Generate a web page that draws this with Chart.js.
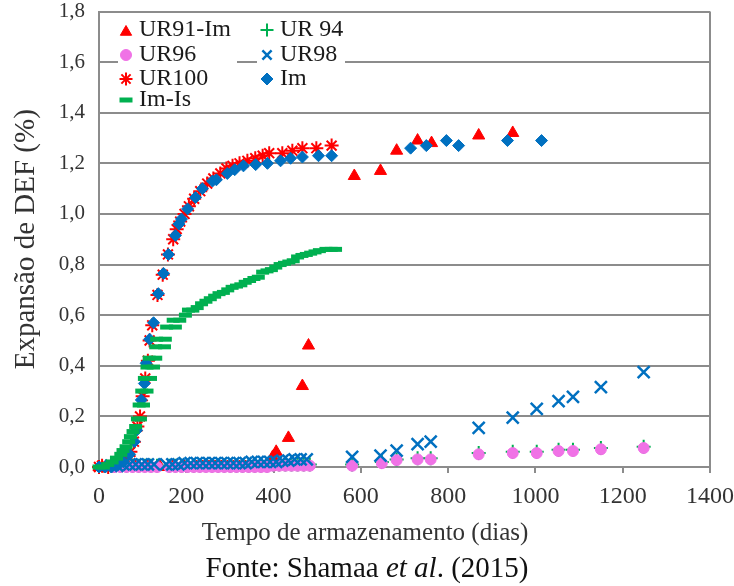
<!DOCTYPE html>
<html lang="pt">
<head>
<meta charset="UTF-8">
<title>Expansão de DEF</title>
<style>
    body { margin: 0; background: #fff; }
    .wrap { position: relative; width: 734px; height: 586px; }
    #chart { position: absolute; left: 0; top: 0; }
    .xtitle, .fonte {
        position: absolute; text-align: center; white-space: nowrap;
        font-family: 'Liberation Serif', 'Times New Roman', serif;
    }
    .xtitle { left: 165px; width: 400px; top: 517px; font-size: 25px; line-height: 30px; color: #333; }
    .fonte { left: 0; width: 734px; top: 550px; font-size: 29px; line-height: 34px; color: #111; }
</style>
</head>
<body>
<div class="wrap">
    <canvas id="chart" width="734" height="552"></canvas>
    <div class="xtitle">Tempo de armazenamento (dias)</div>
    <div class="fonte">Fonte: Shamaa <i>et al</i>. (2015)</div>
</div>

<script src="https://cdn.jsdelivr.net/npm/chart.js"></script>
<script>
// [dias, expansão %]
const ur91Im = [[0,0],[28,0],[56,0],[84,0],[112,0],[140,0],[168,0],[196,0],[224,0],[238,0],[252,0],
    [266,0],[280,0],[294,0],[308,0],[322,0],[336,0],[364,0],[392,0],[398,0.04],[406,0.06],
    [434,0.115],[466,0.32],[480,0.48],[585,1.15],[645,1.17],[682,1.25],[730,1.29],[762,1.28],
    [870,1.31],[948,1.32]];

const ur94 = [[35,0.005],[49,0.005],[63,0.005],[77,0.005],[91,0.005],[105,0.005],[119,0.005],[133,0.005],
    [161,0.005],[175,0.005],[189,0.005],[203,0.005],[217,0.005],[231,0.005],[245,0.005],[259,0.005],
    [273,0.005],[287,0.005],[301,0.005],[315,0.005],[329,0.005],[343,0.005],[357,0.005],[371,0.005],
    [385,0.005],[399,0.01],[413,0.01],[427,0.01],[441,0.01],[455,0.01],[469,0.01],[483,0.01],
    [580,0.01],[648,0.02],[682,0.03],[730,0.035],[760,0.035],[870,0.055],[948,0.06],[1003,0.06],
    [1053,0.068],[1086,0.068],[1150,0.075],[1248,0.08]];

const ur96 = [[35,0],[49,0],[63,0],[77,0],[91,0],[105,0],[119,0],[133,0],
    [161,0],[175,0],[189,0],[203,0],[217,0],[231,0],[245,0],[259,0],
    [273,0],[287,0],[301,0],[315,0],[329,0],[343,0],[357,0],[371,0],
    [385,0],[399,0.005],[413,0.005],[427,0.005],[441,0.005],[455,0.005],[469,0.005],[483,0.005],
    [580,0.005],[648,0.015],[682,0.027],[730,0.03],[760,0.03],[870,0.05],[948,0.055],[1003,0.055],
    [1053,0.063],[1086,0.063],[1150,0.07],[1248,0.075]];

const ur98 = [[28,0.005],[42,0.005],[56,0.01],[70,0.01],[84,0.01],[98,0.01],[112,0.01],[126,0.01],
    [154,0.01],[168,0.01],[182,0.01],[196,0.015],[210,0.015],[224,0.015],[238,0.015],[252,0.015],
    [266,0.015],[280,0.015],[294,0.015],[308,0.015],[322,0.015],[336,0.015],[350,0.02],[364,0.02],
    [378,0.02],[392,0.02],[406,0.02],[420,0.025],[434,0.025],[448,0.03],[462,0.03],[476,0.03],
    [580,0.04],[645,0.045],[682,0.065],[730,0.09],[760,0.10],[870,0.155],[948,0.195],[1003,0.23],
    [1053,0.26],[1086,0.277],[1150,0.316],[1248,0.375]];

const ur100 = [[0,0],[7,0.005],[21,0],[35,0.005],[49,0.01],[63,0.03],[72,0.06],[80,0.1],[88,0.16],
    [94,0.2],[100,0.28],[106,0.35],[112,0.42],[116,0.5],[122,0.56],[134,0.68],[146,0.76],[158,0.84],
    [170,0.9],[178,0.94],[186,0.97],[196,1.0],[206,1.03],[218,1.06],[232,1.09],[248,1.12],[262,1.14],
    [278,1.16],[292,1.18],[306,1.19],[322,1.2],[340,1.21],[358,1.22],[375,1.23],[390,1.24],[420,1.24],
    [443,1.25],[466,1.26],[498,1.26],[533,1.27]];

const im = [[0,0],[14,0],[28,0],[42,0.01],[56,0.02],[70,0.05],[81,0.1],[86,0.145],[97,0.265],
    [104,0.33],[108,0.41],[116,0.505],[125,0.57],[136,0.685],[148,0.765],[159,0.84],[175,0.915],
    [183,0.96],[189,0.98],[203,1.02],[221,1.065],[237,1.10],[260,1.13],[269,1.135],[294,1.16],
    [311,1.175],[331,1.19],[359,1.195],[386,1.20],[416,1.21],[439,1.22],[466,1.225],[503,1.23],
    [533,1.23],[714,1.26],[750,1.27],[796,1.29],[824,1.27],[936,1.29],[1014,1.29]];

const imIs = [[0,0],[10,0],[20,0.01],[30,0.02],[40,0.035],[50,0.05],[55,0.065],[62,0.08],[68,0.1],
    [72,0.12],[78,0.14],[84,0.16],[88,0.19],[95,0.19],[92,0.245],[102,0.245],[98,0.3],[110,0.3],
    [104,0.35],[118,0.35],[110,0.395],[125,0.395],[115,0.43],[130,0.43],[130,0.475],[150,0.475],
    [132,0.505],[152,0.505],[155,0.553],[175,0.553],[170,0.58],[185,0.58],[198,0.6],[205,0.62],
    [215,0.62],[225,0.63],[235,0.645],[245,0.655],[255,0.665],[265,0.675],[275,0.685],[285,0.69],
    [295,0.7],[305,0.71],[315,0.715],[325,0.72],[335,0.73],[345,0.737],[355,0.745],[365,0.75],
    [375,0.77],[385,0.775],[395,0.78],[405,0.79],[415,0.8],[425,0.805],[435,0.81],[445,0.815],
    [455,0.83],[465,0.836],[475,0.84],[485,0.845],[495,0.85],[505,0.855],[520,0.86],[532,0.86],
    [542,0.86]];

// legend grid: [column, row]
const legendSlots = [[0,0],[1,0],[0,1],[1,1],[0,2],[1,2],[0,3]];

const serif = '"Liberation Serif", "Times New Roman", serif';
const gridGray = '#8c8c8c';

function pts(a) {
    return a.map(p => ({x: p[0], y: p[1]}));
}

const insideLegend = {
    id: 'insideLegend',
    afterDraw(chart) {
        const ctx = chart.ctx;
        const cols = [126, 267];
        const boxes = [[118, 237], [257, 345]];
        const rows = [30, 55, 79, 100];
        ctx.save();
        ctx.font = '24px ' + serif;
        ctx.textBaseline = 'middle';
        chart.data.datasets.forEach((ds, i) => {
            const slot = legendSlots[i];
            const mx = cols[slot[0]];
            const y = rows[slot[1]];
            const tx = mx + 13;
            const w = ctx.measureText(ds.label).width;
            const bx = boxes[slot[0]];
            ctx.fillStyle = '#fff';
            ctx.fillRect(bx[0], y - 12, Math.max(bx[1], tx + w + 2) - bx[0], 22);
            ctx.fillStyle = ds.backgroundColor;
            ctx.strokeStyle = ds.borderColor;
            ctx.lineWidth = ds.borderWidth;
            Chart.helpers.drawPoint(ctx, {
                pointStyle: ds.pointStyle,
                radius: Math.min(ds.pointRadius, 6.5),
                rotation: 0,
                borderWidth: ds.borderWidth
            }, mx, y + (ds.pointStyle === 'triangle' ? 2 : 0));
            ctx.fillStyle = '#1a1a1a';
            ctx.fillText(ds.label, tx, y);
        });
        ctx.restore();
    }
};

const red = '#ff0000', green = '#00b050', pink = '#f072e6', blue = '#0070c0';

new Chart(document.getElementById('chart'), {
    type: 'scatter',
    data: {
        datasets: [
            {label: 'UR91-Im', data: pts(ur91Im), pointStyle: 'triangle', pointRadius: 7,
             backgroundColor: red, borderColor: red, borderWidth: 1, order: 6},
            {label: 'UR 94', data: pts(ur94), pointStyle: 'cross', pointRadius: 7,
             backgroundColor: green, borderColor: green, borderWidth: 2, order: 4},
            {label: 'UR96', data: pts(ur96), pointStyle: 'circle', pointRadius: 5.5,
             backgroundColor: pink, borderColor: pink, borderWidth: 1, order: 3},
            {label: 'UR98', data: pts(ur98), pointStyle: 'crossRot', pointRadius: 8.5,
             backgroundColor: blue, borderColor: blue, borderWidth: 2.5, order: 2},
            {label: 'UR100', data: pts(ur100), pointStyle: 'star', pointRadius: 7,
             backgroundColor: red, borderColor: red, borderWidth: 2, order: 5},
            {label: 'Im', data: pts(im), pointStyle: 'rectRot', pointRadius: 6,
             backgroundColor: blue, borderColor: blue, borderWidth: 1, order: 1},
            {label: 'Im-Is', data: pts(imIs), pointStyle: 'line', pointRadius: 6.5,
             backgroundColor: green, borderColor: green, borderWidth: 5, order: 0}
        ]
    },
    options: {
        responsive: false,
        animation: false,
        clip: false,
        layout: {padding: {top: 11, right: 24, left: 0, bottom: 0}},
        plugins: {
            legend: {display: false},
            tooltip: {enabled: false}
        },
        scales: {
            x: {
                type: 'linear',
                min: 0,
                max: 1400,
                afterFit(scale) {
                    scale.height = 85;
                    scale.paddingLeft = 0;
                    scale.paddingRight = 0;
                },
                ticks: {
                    stepSize: 200,
                    padding: 9,
                    color: '#333',
                    font: {family: serif, size: 24},
                    callback: v => String(v)
                },
                grid: {
                    color: c => (c.tick && c.tick.value === 1400) ? gridGray : 'rgba(0,0,0,0)',
                    tickColor: gridGray,
                    tickLength: 6,
                    lineWidth: 2
                },
                border: {color: gridGray, width: 2}
            },
            y: {
                min: 0,
                max: 1.8,
                afterFit(scale) {
                    scale.width = 99;
                    scale.paddingTop = 0;
                    scale.paddingBottom = 0;
                },
                ticks: {
                    stepSize: 0.2,
                    padding: 14,
                    color: '#333',
                    font: {family: serif, size: 21},
                    callback: v => v.toFixed(1).replace('.', ',')
                },
                grid: {color: gridGray, lineWidth: 2, drawTicks: false},
                border: {color: gridGray, width: 2},
                title: {
                    display: true,
                    text: 'Expansão de DEF (%)',
                    color: '#333',
                    font: {family: serif, size: 29},
                    padding: {top: 9, bottom: 0}
                }
            }
        }
    },
    plugins: [insideLegend]
});
</script>
</body>
</html>
